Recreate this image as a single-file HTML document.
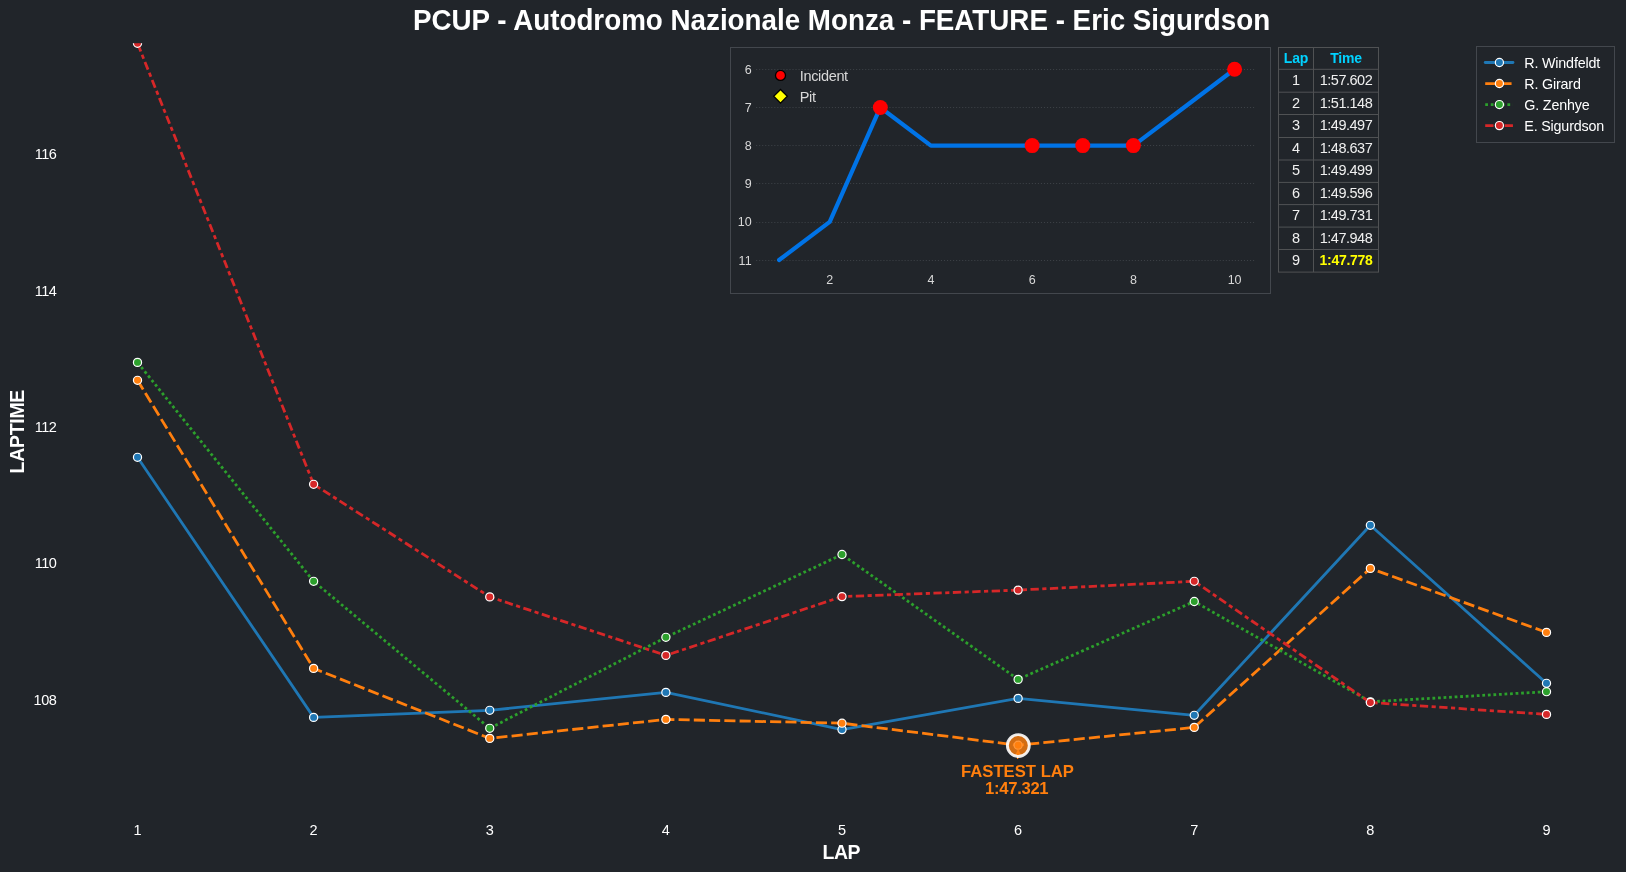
<!DOCTYPE html><html><head><meta charset="utf-8"><title>PCUP - Autodromo Nazionale Monza - FEATURE - Eric Sigurdson</title><style>html,body{margin:0;padding:0;background:#21252a;overflow:hidden}svg{display:block}text{font-family:"Liberation Sans", sans-serif}</style></head><body>
<svg width="1626" height="872" viewBox="0 0 1626 872" style="will-change:transform">
<rect width="1626" height="872" fill="#21252a"/>
<defs><clipPath id="ax"><rect x="60" y="43.2" width="1560" height="780"/></clipPath></defs>
<text transform="translate(841.50,30.00) scale(1.000,1.050)" text-anchor="middle" font-size="27.78" font-weight="bold" fill="#fff">PCUP - Autodromo Nazionale Monza - FEATURE - Eric Sigurdson</text>
<text transform="translate(56.30,159.20)" text-anchor="end" font-size="14.50" letter-spacing="-0.50" fill="#fff">116</text>
<text transform="translate(56.30,295.60)" text-anchor="end" font-size="14.50" letter-spacing="-0.50" fill="#fff">114</text>
<text transform="translate(56.30,432.00)" text-anchor="end" font-size="14.50" letter-spacing="-0.50" fill="#fff">112</text>
<text transform="translate(56.30,568.40)" text-anchor="end" font-size="14.50" letter-spacing="-0.50" fill="#fff">110</text>
<text transform="translate(56.30,704.80)" text-anchor="end" font-size="14.50" letter-spacing="-0.50" fill="#fff">108</text>
<text transform="translate(137.50,834.90)" text-anchor="middle" font-size="14.50" fill="#fff">1</text>
<text transform="translate(313.62,834.90)" text-anchor="middle" font-size="14.50" fill="#fff">2</text>
<text transform="translate(489.75,834.90)" text-anchor="middle" font-size="14.50" fill="#fff">3</text>
<text transform="translate(665.88,834.90)" text-anchor="middle" font-size="14.50" fill="#fff">4</text>
<text transform="translate(842.00,834.90)" text-anchor="middle" font-size="14.50" fill="#fff">5</text>
<text transform="translate(1018.12,834.90)" text-anchor="middle" font-size="14.50" fill="#fff">6</text>
<text transform="translate(1194.25,834.90)" text-anchor="middle" font-size="14.50" fill="#fff">7</text>
<text transform="translate(1370.38,834.90)" text-anchor="middle" font-size="14.50" fill="#fff">8</text>
<text transform="translate(1546.50,834.90)" text-anchor="middle" font-size="14.50" fill="#fff">9</text>
<text transform="translate(841.20,858.70)" text-anchor="middle" font-size="19.44" font-weight="bold" letter-spacing="-0.50" fill="#fff">LAP</text>
<g transform="translate(24.0,431.7) rotate(-90)"><text transform="translate(0.00,0.00)" text-anchor="middle" font-size="19.44" font-weight="bold" letter-spacing="-0.25" fill="#fff">LAPTIME</text></g>
<g clip-path="url(#ax)">
<polyline points="137.50,457.30 313.62,717.40 489.75,710.30 665.88,692.40 842.00,729.60 1018.12,698.40 1194.25,715.30 1370.38,525.30 1546.50,683.30" fill="none" stroke="#1f77b4" stroke-width="2.778" stroke-linejoin="round" stroke-linecap="butt"/><circle cx="137.50" cy="457.30" r="4.070" fill="#1f77b4" stroke="#fff" stroke-width="1.2"/><circle cx="313.62" cy="717.40" r="4.070" fill="#1f77b4" stroke="#fff" stroke-width="1.2"/><circle cx="489.75" cy="710.30" r="4.070" fill="#1f77b4" stroke="#fff" stroke-width="1.2"/><circle cx="665.88" cy="692.40" r="4.070" fill="#1f77b4" stroke="#fff" stroke-width="1.2"/><circle cx="842.00" cy="729.60" r="4.070" fill="#1f77b4" stroke="#fff" stroke-width="1.2"/><circle cx="1018.12" cy="698.40" r="4.070" fill="#1f77b4" stroke="#fff" stroke-width="1.2"/><circle cx="1194.25" cy="715.30" r="4.070" fill="#1f77b4" stroke="#fff" stroke-width="1.2"/><circle cx="1370.38" cy="525.30" r="4.070" fill="#1f77b4" stroke="#fff" stroke-width="1.2"/><circle cx="1546.50" cy="683.30" r="4.070" fill="#1f77b4" stroke="#fff" stroke-width="1.2"/>
<polyline points="137.50,380.30 313.62,668.40 489.75,738.40 665.88,719.40 842.00,723.20 1018.12,745.20 1194.25,727.40 1370.38,568.40 1546.50,632.40" fill="none" stroke="#ff7f0e" stroke-width="2.778" stroke-linejoin="round" stroke-linecap="butt" stroke-dasharray="11.1 4.1625" stroke-dashoffset="0.3"/><circle cx="137.50" cy="380.30" r="4.070" fill="#ff7f0e" stroke="#fff" stroke-width="1.2"/><circle cx="313.62" cy="668.40" r="4.070" fill="#ff7f0e" stroke="#fff" stroke-width="1.2"/><circle cx="489.75" cy="738.40" r="4.070" fill="#ff7f0e" stroke="#fff" stroke-width="1.2"/><circle cx="665.88" cy="719.40" r="4.070" fill="#ff7f0e" stroke="#fff" stroke-width="1.2"/><circle cx="842.00" cy="723.20" r="4.070" fill="#ff7f0e" stroke="#fff" stroke-width="1.2"/><circle cx="1018.12" cy="745.20" r="4.070" fill="#ff7f0e" stroke="#fff" stroke-width="1.2"/><circle cx="1194.25" cy="727.40" r="4.070" fill="#ff7f0e" stroke="#fff" stroke-width="1.2"/><circle cx="1370.38" cy="568.40" r="4.070" fill="#ff7f0e" stroke="#fff" stroke-width="1.2"/><circle cx="1546.50" cy="632.40" r="4.070" fill="#ff7f0e" stroke="#fff" stroke-width="1.2"/>
<polyline points="137.50,362.40 313.62,581.30 489.75,728.30 665.88,637.30 842.00,554.50 1018.12,679.40 1194.25,601.50 1370.38,701.80 1546.50,691.70" fill="none" stroke="#2ca02c" stroke-width="2.778" stroke-linejoin="round" stroke-linecap="butt" stroke-dasharray="2.775 2.775" stroke-dashoffset="-0.4"/><circle cx="137.50" cy="362.40" r="4.070" fill="#2ca02c" stroke="#fff" stroke-width="1.2"/><circle cx="313.62" cy="581.30" r="4.070" fill="#2ca02c" stroke="#fff" stroke-width="1.2"/><circle cx="489.75" cy="728.30" r="4.070" fill="#2ca02c" stroke="#fff" stroke-width="1.2"/><circle cx="665.88" cy="637.30" r="4.070" fill="#2ca02c" stroke="#fff" stroke-width="1.2"/><circle cx="842.00" cy="554.50" r="4.070" fill="#2ca02c" stroke="#fff" stroke-width="1.2"/><circle cx="1018.12" cy="679.40" r="4.070" fill="#2ca02c" stroke="#fff" stroke-width="1.2"/><circle cx="1194.25" cy="601.50" r="4.070" fill="#2ca02c" stroke="#fff" stroke-width="1.2"/><circle cx="1370.38" cy="701.80" r="4.070" fill="#2ca02c" stroke="#fff" stroke-width="1.2"/><circle cx="1546.50" cy="691.70" r="4.070" fill="#2ca02c" stroke="#fff" stroke-width="1.2"/>
<polyline points="137.50,43.30 313.62,484.30 489.75,596.90 665.88,655.40 842.00,596.60 1018.12,590.10 1194.25,581.30 1370.38,702.50 1546.50,714.40" fill="none" stroke="#d62728" stroke-width="2.778" stroke-linejoin="round" stroke-linecap="butt" stroke-dasharray="8.325 3.46875 4.1625 3.46875" stroke-dashoffset="-0.6"/><circle cx="137.50" cy="43.30" r="4.070" fill="#d62728" stroke="#fff" stroke-width="1.2"/><circle cx="313.62" cy="484.30" r="4.070" fill="#d62728" stroke="#fff" stroke-width="1.2"/><circle cx="489.75" cy="596.90" r="4.070" fill="#d62728" stroke="#fff" stroke-width="1.2"/><circle cx="665.88" cy="655.40" r="4.070" fill="#d62728" stroke="#fff" stroke-width="1.2"/><circle cx="842.00" cy="596.60" r="4.070" fill="#d62728" stroke="#fff" stroke-width="1.2"/><circle cx="1018.12" cy="590.10" r="4.070" fill="#d62728" stroke="#fff" stroke-width="1.2"/><circle cx="1194.25" cy="581.30" r="4.070" fill="#d62728" stroke="#fff" stroke-width="1.2"/><circle cx="1370.38" cy="702.50" r="4.070" fill="#d62728" stroke="#fff" stroke-width="1.2"/><circle cx="1546.50" cy="714.40" r="4.070" fill="#d62728" stroke="#fff" stroke-width="1.2"/>
<polygon points="1018.12,748.60 1015.33,755.00 1020.92,755.00" fill="#ff7f0e"/>
<line x1="1017.62" y1="754.70" x2="1017.62" y2="759.00" stroke="#ff7f0e" stroke-width="1.3"/>
<circle cx="1018.33" cy="745.60" r="10.95" fill="#ff7f0e" fill-opacity="0.8" stroke="#fff" stroke-opacity="0.9" stroke-width="2.9"/>
</g>
<text transform="translate(1017.50,776.90)" text-anchor="middle" font-size="16.67" font-weight="bold" fill="#ff7f0e">FASTEST LAP</text>
<text transform="translate(1016.70,793.80)" text-anchor="middle" font-size="16.67" font-weight="bold" letter-spacing="-0.32" fill="#ff7f0e">1:47.321</text>
<rect x="1476.5" y="46.5" width="138" height="96" fill="#21252a" stroke="#43474d" stroke-width="1"/>
<line x1="1485.2" y1="62.50" x2="1513.0" y2="62.50" stroke="#1f77b4" stroke-width="2.778" stroke-linecap="round"/>
<circle cx="1499.4" cy="62.50" r="4.070" fill="#1f77b4" stroke="#fff" stroke-width="1.2"/>
<text transform="translate(1524.30,67.60)" text-anchor="start" font-size="14.30" letter-spacing="-0.18" fill="#fff">R. Windfeldt</text>
<line x1="1485.2" y1="83.53" x2="1513.0" y2="83.53" stroke="#ff7f0e" stroke-width="2.778" stroke-linecap="butt" stroke-dasharray="11.1 4.1625"/>
<circle cx="1499.4" cy="83.53" r="4.070" fill="#ff7f0e" stroke="#fff" stroke-width="1.2"/>
<text transform="translate(1524.30,88.63)" text-anchor="start" font-size="14.30" letter-spacing="-0.18" fill="#fff">R. Girard</text>
<line x1="1485.2" y1="104.56" x2="1513.0" y2="104.56" stroke="#2ca02c" stroke-width="2.778" stroke-linecap="butt" stroke-dasharray="2.775 2.775"/>
<circle cx="1499.4" cy="104.56" r="4.070" fill="#2ca02c" stroke="#fff" stroke-width="1.2"/>
<text transform="translate(1524.30,109.66)" text-anchor="start" font-size="14.30" letter-spacing="-0.18" fill="#fff">G. Zenhye</text>
<line x1="1485.2" y1="125.59" x2="1513.0" y2="125.59" stroke="#d62728" stroke-width="2.778" stroke-linecap="butt" stroke-dasharray="8.325 3.46875 4.1625 3.46875"/>
<circle cx="1499.4" cy="125.59" r="4.070" fill="#d62728" stroke="#fff" stroke-width="1.2"/>
<text transform="translate(1524.30,130.69)" text-anchor="start" font-size="14.30" letter-spacing="-0.18" fill="#fff">E. Sigurdson</text>
<rect x="730.5" y="47.5" width="540" height="246" fill="#21252a" stroke="#43474d" stroke-width="1"/>
<line x1="756.1" y1="69.50" x2="1256" y2="69.50" stroke="#3c4046" stroke-width="1" stroke-dasharray="1.1 1.93"/>
<text transform="translate(751.60,73.80)" text-anchor="end" font-size="12.50" fill="#d8d8d8">6</text>
<line x1="756.1" y1="107.50" x2="1256" y2="107.50" stroke="#3c4046" stroke-width="1" stroke-dasharray="1.1 1.93"/>
<text transform="translate(751.60,111.95)" text-anchor="end" font-size="12.50" fill="#d8d8d8">7</text>
<line x1="756.1" y1="145.50" x2="1256" y2="145.50" stroke="#3c4046" stroke-width="1" stroke-dasharray="1.1 1.93"/>
<text transform="translate(751.60,150.10)" text-anchor="end" font-size="12.50" fill="#d8d8d8">8</text>
<line x1="756.1" y1="183.50" x2="1256" y2="183.50" stroke="#3c4046" stroke-width="1" stroke-dasharray="1.1 1.93"/>
<text transform="translate(751.60,188.25)" text-anchor="end" font-size="12.50" fill="#d8d8d8">9</text>
<line x1="756.1" y1="222.50" x2="1256" y2="222.50" stroke="#3c4046" stroke-width="1" stroke-dasharray="1.1 1.93"/>
<text transform="translate(751.60,226.40)" text-anchor="end" font-size="12.50" fill="#d8d8d8">10</text>
<line x1="756.1" y1="260.50" x2="1256" y2="260.50" stroke="#3c4046" stroke-width="1" stroke-dasharray="1.1 1.93"/>
<text transform="translate(751.60,264.55)" text-anchor="end" font-size="12.50" fill="#d8d8d8">11</text>
<text transform="translate(829.71,284.40)" text-anchor="middle" font-size="12.50" fill="#d8d8d8">2</text>
<text transform="translate(930.93,284.40)" text-anchor="middle" font-size="12.50" fill="#d8d8d8">4</text>
<text transform="translate(1032.15,284.40)" text-anchor="middle" font-size="12.50" fill="#d8d8d8">6</text>
<text transform="translate(1133.37,284.40)" text-anchor="middle" font-size="12.50" fill="#d8d8d8">8</text>
<text transform="translate(1234.59,284.40)" text-anchor="middle" font-size="12.50" fill="#d8d8d8">10</text>
<polyline points="779.10,260.05 829.71,221.90 880.32,107.45 930.93,145.60 981.54,145.60 1032.15,145.60 1082.76,145.60 1133.37,145.60 1183.98,107.45 1234.59,69.30" fill="none" stroke="#0073e6" stroke-width="4.2" stroke-linecap="round" stroke-linejoin="round"/>
<circle cx="880.32" cy="107.45" r="7.5" fill="#ff0000"/>
<circle cx="1032.15" cy="145.60" r="7.5" fill="#ff0000"/>
<circle cx="1082.76" cy="145.60" r="7.5" fill="#ff0000"/>
<circle cx="1133.37" cy="145.60" r="7.5" fill="#ff0000"/>
<circle cx="1234.59" cy="69.30" r="7.5" fill="#ff0000"/>
<circle cx="780.5" cy="75.4" r="5" fill="#ff0000" stroke="#000" stroke-width="1.3"/>
<polygon points="780.5,89.5 787.3,96.3 780.5,103.1 773.7,96.3" fill="#ffff00" stroke="#000" stroke-width="1.3"/>
<text transform="translate(799.80,81.00)" text-anchor="start" font-size="14.50" letter-spacing="-0.35" fill="#d8d8d8">Incident</text>
<text transform="translate(799.80,101.80)" text-anchor="start" font-size="14.50" letter-spacing="-0.35" fill="#d8d8d8">Pit</text>
<g stroke="#505254" stroke-width="1" fill="none">
<rect x="1278.5" y="47.5" width="100.0" height="224.6"/>
<line x1="1313.5" y1="47.5" x2="1313.5" y2="272.1"/>
<line x1="1278.5" y1="69.3" x2="1378.5" y2="69.3"/>
<line x1="1278.5" y1="92.2" x2="1378.5" y2="92.2"/>
<line x1="1278.5" y1="114.5" x2="1378.5" y2="114.5"/>
<line x1="1278.5" y1="137.5" x2="1378.5" y2="137.5"/>
<line x1="1278.5" y1="160.0" x2="1378.5" y2="160.0"/>
<line x1="1278.5" y1="182.4" x2="1378.5" y2="182.4"/>
<line x1="1278.5" y1="204.6" x2="1378.5" y2="204.6"/>
<line x1="1278.5" y1="227.1" x2="1378.5" y2="227.1"/>
<line x1="1278.5" y1="249.5" x2="1378.5" y2="249.5"/>
</g>
<text transform="translate(1296.00,62.70)" text-anchor="middle" font-size="14.00" font-weight="bold" letter-spacing="-0.20" fill="#00d2ff">Lap</text>
<text transform="translate(1346.00,62.70)" text-anchor="middle" font-size="14.00" font-weight="bold" letter-spacing="-0.20" fill="#00d2ff">Time</text>
<text transform="translate(1296.00,85.10)" text-anchor="middle" font-size="14.50" fill="#f0f0f0">1</text>
<text transform="translate(1346.00,85.10)" text-anchor="middle" font-size="14.50" letter-spacing="-0.50" fill="#f0f0f0">1:57.602</text>
<text transform="translate(1296.00,107.90)" text-anchor="middle" font-size="14.50" fill="#f0f0f0">2</text>
<text transform="translate(1346.00,107.90)" text-anchor="middle" font-size="14.50" letter-spacing="-0.50" fill="#f0f0f0">1:51.148</text>
<text transform="translate(1296.00,129.60)" text-anchor="middle" font-size="14.50" fill="#f0f0f0">3</text>
<text transform="translate(1346.00,129.60)" text-anchor="middle" font-size="14.50" letter-spacing="-0.50" fill="#f0f0f0">1:49.497</text>
<text transform="translate(1296.00,152.90)" text-anchor="middle" font-size="14.50" fill="#f0f0f0">4</text>
<text transform="translate(1346.00,152.90)" text-anchor="middle" font-size="14.50" letter-spacing="-0.50" fill="#f0f0f0">1:48.637</text>
<text transform="translate(1296.00,174.50)" text-anchor="middle" font-size="14.50" fill="#f0f0f0">5</text>
<text transform="translate(1346.00,174.50)" text-anchor="middle" font-size="14.50" letter-spacing="-0.50" fill="#f0f0f0">1:49.499</text>
<text transform="translate(1296.00,197.60)" text-anchor="middle" font-size="14.50" fill="#f0f0f0">6</text>
<text transform="translate(1346.00,197.60)" text-anchor="middle" font-size="14.50" letter-spacing="-0.50" fill="#f0f0f0">1:49.596</text>
<text transform="translate(1296.00,219.60)" text-anchor="middle" font-size="14.50" fill="#f0f0f0">7</text>
<text transform="translate(1346.00,219.60)" text-anchor="middle" font-size="14.50" letter-spacing="-0.50" fill="#f0f0f0">1:49.731</text>
<text transform="translate(1296.00,242.70)" text-anchor="middle" font-size="14.50" fill="#f0f0f0">8</text>
<text transform="translate(1346.00,242.70)" text-anchor="middle" font-size="14.50" letter-spacing="-0.50" fill="#f0f0f0">1:47.948</text>
<text transform="translate(1296.00,264.60)" text-anchor="middle" font-size="14.50" fill="#f0f0f0">9</text>
<text transform="translate(1346.00,264.60)" text-anchor="middle" font-size="14.00" font-weight="bold" letter-spacing="-0.30" fill="#ffff00">1:47.778</text>
</svg></body></html>
